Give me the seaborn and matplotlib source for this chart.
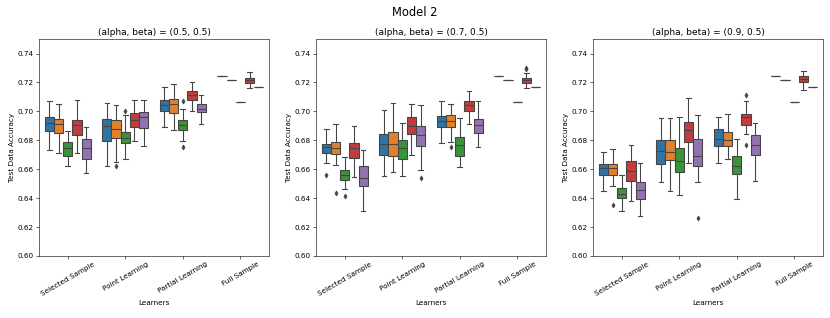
import pandas as pd
import seaborn as sns
import matplotlib.pyplot as plt

learners = ['Selected Sample', 'Point Learning', 'Partial Learning', 'Full Sample']
methods = ['M1', 'M2', 'M3', 'M4', 'M5']
titles = ['(alpha, beta) = (0.5, 0.5)', '(alpha, beta) = (0.7, 0.5)', '(alpha, beta) = (0.9, 0.5)']

# five-number summaries (lo whisker, q1, median, q3, hi whisker), per learner then per method
stats_05 = [
    [(0.6732, 0.6863, 0.6921, 0.6959, 0.7070), (0.6711, 0.6852, 0.6912, 0.6949, 0.7052),
     (0.6622, 0.6693, 0.6748, 0.6790, 0.6863), (0.6711, 0.6834, 0.6905, 0.6939, 0.7082),
     (0.6571, 0.6672, 0.6746, 0.6806, 0.6891)],
    [(0.6622, 0.6794, 0.6896, 0.6949, 0.7061), (0.6652, 0.6813, 0.6880, 0.6939, 0.7043),
     (0.6672, 0.6781, 0.6813, 0.6859, 0.6972), (0.6792, 0.6891, 0.6939, 0.6990, 0.7082),
     (0.6762, 0.6882, 0.6962, 0.6997, 0.7082)],
    [(0.6891, 0.7002, 0.7043, 0.7080, 0.7172), (0.6870, 0.6990, 0.7048, 0.7087, 0.7193),
     (0.6795, 0.6868, 0.6903, 0.6939, 0.7020), (0.7002, 0.7082, 0.7112, 0.7140, 0.7202),
     (0.6915, 0.6995, 0.7020, 0.7052, 0.7112)],
    [(0.7243, 0.7243, 0.7243, 0.7243, 0.7243), (0.7220, 0.7220, 0.7220, 0.7220, 0.7220),
     (0.7064, 0.7064, 0.7064, 0.7064, 0.7064), (0.7160, 0.7199, 0.7220, 0.7232, 0.7271),
     (0.7172, 0.7172, 0.7172, 0.7172, 0.7172)],
]
fliers_05 = [(1, 1, 0.6619), (1, 2, 0.7006), (2, 2, 0.7070), (2, 2, 0.6755)]

stats_07 = [
    [(0.6640, 0.6711, 0.6751, 0.6778, 0.6876), (0.6631, 0.6702, 0.6748, 0.6790, 0.6912),
     (0.6463, 0.6523, 0.6562, 0.6592, 0.6682), (0.6544, 0.6675, 0.6748, 0.6780, 0.6900),
     (0.6311, 0.6484, 0.6539, 0.6620, 0.6732)],
    [(0.6550, 0.6700, 0.6776, 0.6847, 0.7011), (0.6583, 0.6691, 0.6774, 0.6861, 0.7061),
     (0.6550, 0.6672, 0.6748, 0.6801, 0.6923), (0.6700, 0.6843, 0.6896, 0.6958, 0.7052),
     (0.6592, 0.6762, 0.6840, 0.6900, 0.7041)],
    [(0.6780, 0.6891, 0.6932, 0.6967, 0.7070), (0.6785, 0.6893, 0.6937, 0.6978, 0.7052),
     (0.6613, 0.6695, 0.6767, 0.6822, 0.6951), (0.6912, 0.7002, 0.7041, 0.7070, 0.7142),
     (0.6751, 0.6852, 0.6909, 0.6949, 0.7070)],
    [(0.7243, 0.7243, 0.7243, 0.7243, 0.7243), (0.7220, 0.7220, 0.7220, 0.7220, 0.7220),
     (0.7064, 0.7064, 0.7064, 0.7064, 0.7064), (0.7160, 0.7199, 0.7216, 0.7232, 0.7266),
     (0.7172, 0.7172, 0.7172, 0.7172, 0.7172)],
]
fliers_07 = [(0, 0, 0.6562), (0, 1, 0.6433), (0, 2, 0.6415), (1, 4, 0.6541),
             (2, 1, 0.6755), (3, 3, 0.7290), (3, 3, 0.7301)]

stats_09 = [
    [(0.6452, 0.6562, 0.6608, 0.6638, 0.6721), (0.6481, 0.6562, 0.6608, 0.6638, 0.6741),
     (0.6311, 0.6401, 0.6431, 0.6467, 0.6562), (0.6382, 0.6520, 0.6589, 0.6659, 0.6771),
     (0.6274, 0.6391, 0.6453, 0.6511, 0.6642)],
    [(0.6511, 0.6635, 0.6725, 0.6803, 0.6951), (0.6451, 0.6661, 0.6716, 0.6803, 0.6951),
     (0.6421, 0.6580, 0.6656, 0.6750, 0.6962), (0.6642, 0.6787, 0.6870, 0.6928, 0.7091),
     (0.6511, 0.6621, 0.6695, 0.6810, 0.6972)],
    [(0.6642, 0.6762, 0.6806, 0.6877, 0.6960), (0.6672, 0.6764, 0.6803, 0.6861, 0.6981),
     (0.6391, 0.6564, 0.6622, 0.6695, 0.6812), (0.6841, 0.6905, 0.6958, 0.6981, 0.7070),
     (0.6520, 0.6700, 0.6767, 0.6838, 0.6921)],
    [(0.7243, 0.7243, 0.7243, 0.7243, 0.7243), (0.7220, 0.7220, 0.7220, 0.7220, 0.7220),
     (0.7064, 0.7064, 0.7064, 0.7064, 0.7064), (0.7151, 0.7204, 0.7225, 0.7243, 0.7282),
     (0.7172, 0.7172, 0.7172, 0.7172, 0.7172)],
]
fliers_09 = [(0, 1, 0.6352), (1, 4, 0.6263), (2, 3, 0.7112), (2, 3, 0.6771)]


def to_frame(stats, fliers):
    # rebuild 13 samples per box so the quartiles land on the read values
    rows = []
    for g, group in enumerate(stats):
        for h, (lo, q1, med, q3, hi) in enumerate(group):
            low = sorted(v for gg, hh, v in fliers if gg == g and hh == h and v < q1)
            high = sorted(v for gg, hh, v in fliers if gg == g and hh == h and v > q3)
            vals = low + [lo] * (3 - len(low)) + [q1, med, med, med, med, med, q3]
            vals += [hi] * (3 - len(high)) + high
            for v in vals:
                rows.append({'Learners': learners[g], 'method': methods[h], 'acc': v})
    return pd.DataFrame(rows)


DPI = 52
fig = plt.figure(figsize=(830 / DPI, 318 / DPI), dpi=DPI)
axes = fig.subplots(1, 3)
fig.subplots_adjust(left=0.047, right=0.9916, bottom=0.195, top=0.877, wspace=0.204)

for ax, stats, fliers, title in zip(axes, [stats_05, stats_07, stats_09],
                                    [fliers_05, fliers_07, fliers_09], titles):
    df = to_frame(stats, fliers)
    sns.boxplot(data=df, x='Learners', y='acc', hue='method', order=learners,
                hue_order=methods, palette='tab10', saturation=0.75, ax=ax,
                linecolor='0.27', linewidth=1.5, legend=False,
                flierprops=dict(marker='d', markersize=5, markerfacecolor='0.27',
                                markeredgecolor='0.27'))
    ax.set_ylim(0.60, 0.75)
    ax.set_yticks([0.60, 0.62, 0.64, 0.66, 0.68, 0.70, 0.72, 0.74])
    ax.set_title(title, fontsize=12.5)
    ax.set_xlabel('Learners')
    ax.set_ylabel('Test Data Accuracy')
    plt.setp(ax.get_xticklabels(), rotation=30)

fig.suptitle('Model 2', fontsize=16)
fig.savefig('out.png', dpi=DPI)
